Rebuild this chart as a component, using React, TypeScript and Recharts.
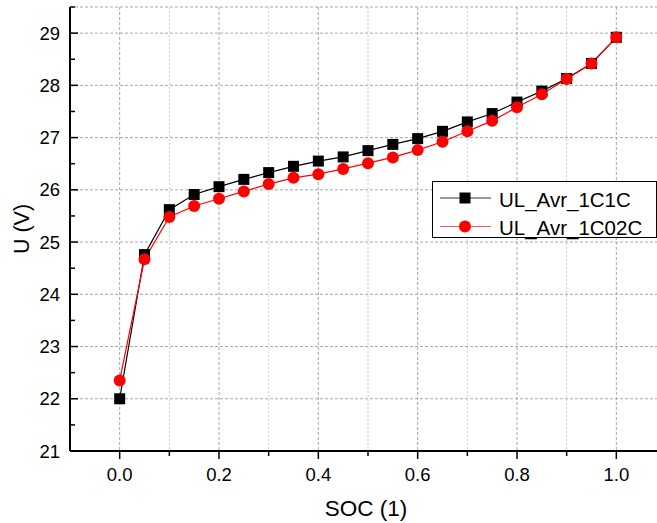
import { LineChart, Line, XAxis, YAxis, CartesianGrid, Label } from 'recharts';

const SOC = [0, 0.05, 0.1, 0.15, 0.2, 0.25, 0.3, 0.35, 0.4, 0.45, 0.5, 0.55, 0.6, 0.65, 0.7, 0.75, 0.8, 0.85, 0.9, 0.95, 1.0];
const U_1C1C = [22.0, 24.76, 25.62, 25.91, 26.06, 26.2, 26.33, 26.45, 26.55, 26.63, 26.75, 26.87, 26.98, 27.12, 27.3, 27.46, 27.68, 27.89, 28.13, 28.42, 28.92];
const U_1C02C = [22.35, 24.67, 25.48, 25.69, 25.83, 25.97, 26.11, 26.23, 26.3, 26.4, 26.51, 26.62, 26.76, 26.92, 27.12, 27.32, 27.58, 27.83, 28.12, 28.42, 28.92];

const X_TICKS = [0, 0.1, 0.2, 0.3, 0.4, 0.5, 0.6, 0.7, 0.8, 0.9, 1.0, 1.1];
const Y_TICKS = [21, 21.5, 22, 22.5, 23, 23.5, 24, 24.5, 25, 25.5, 26, 26.5, 27, 27.5, 28, 28.5, 29, 29.5];
const Y_GRID = [22, 23, 24, 25, 26, 27, 28, 29];
const X_GRID_MAJOR = [0, 0.2, 0.4, 0.6, 0.8, 1.0];
const X_GRID_MINOR = [0.1, 0.3, 0.5, 0.7, 0.9];

const X_DOMAIN = [-0.1, 1.1];
const Y_DOMAIN = [21, 29.5];

const SERIES = [
  { key: 'a', name: 'UL_Avr_1C1C', color: '#000000', legendLine: '#333333' },
  { key: 'b', name: 'UL_Avr_1C02C', color: '#ff0000', legendLine: '#ff5a5a' },
];

const data = SOC.map((s, i) => ({ soc: s, a: U_1C1C[i], b: U_1C02C[i] }));

const FONT = '"Liberation Sans", Arial, sans-serif';

const isMajor = (v: number, step: number) => Math.abs(Math.round(v / step) * step - v) < 1e-6;

function XTick(props: any) {
  const { x, y, payload } = props;
  const major = isMajor(payload.value, 0.2);
  return (
    <g>
      <line x1={x} x2={x} y1={y} y2={y + (major ? 8 : 5)} stroke="#000" strokeWidth={1.5} />
      {major && (
        <text x={x} y={y + 23} textAnchor="middle" dominantBaseline="central" fontSize={18.5} fontFamily={FONT} fill="#000">
          {payload.value.toFixed(1)}
        </text>
      )}
    </g>
  );
}

function YTick(props: any) {
  const { x, y, payload } = props;
  const major = isMajor(payload.value, 1);
  return (
    <g>
      <line x1={x} x2={x + (major ? 8 : 5)} y1={y} y2={y} stroke="#000" strokeWidth={1.5} />
      {major && (
        <text x={x - 10} y={y} textAnchor="end" dominantBaseline="central" fontSize={18.5} fontFamily={FONT} fill="#000">
          {payload.value}
        </text>
      )}
    </g>
  );
}

function SquareDot(props: any) {
  const { cx, cy, index } = props;
  if (cx == null || cy == null) return <g key={`s-${index}`} />;
  return <rect key={`s-${index}`} x={cx - 5.5} y={cy - 5.5} width={11} height={11} fill="#000" />;
}

function LegendBox() {
  return (
    <div
      style={{
        position: 'absolute',
        left: 432,
        top: 181,
        width: 225,
        height: 57,
        border: '1px solid #000',
        background: '#fff',
        boxSizing: 'border-box',
      }}
    >
      <svg width={225} height={57} style={{ position: 'absolute', left: -1, top: -1, overflow: 'visible' }}>
        {SERIES.map((s, i) => {
          const cy = 17 + i * 28.5;
          return (
            <g key={s.key}>
              <line x1={8} x2={59} y1={cy} y2={cy} stroke={s.legendLine} strokeWidth={1} />
              {i === 0 ? (
                <rect x={33 - 5.5} y={cy - 5.5} width={11} height={11} fill={s.color} />
              ) : (
                <circle cx={33} cy={cy} r={6} fill={s.color} />
              )}
              <text x={67} y={cy + 1} dominantBaseline="central" fontSize={20.5} fontFamily={FONT} fill="#000">
                {s.name}
              </text>
            </g>
          );
        })}
      </svg>
    </div>
  );
}

export default function App() {
  return (
    <div style={{ position: 'absolute', left: 0, top: 0, width: 657, height: 523, overflow: 'hidden', background: '#fff' }}>
      <LineChart width={666} height={523} data={data} margin={{ top: 7, right: 0, left: 0, bottom: 0 }}>
        {/* grid helpers: hidden axes carry only the gridline positions */}
        <XAxis xAxisId="gMaj" type="number" dataKey="soc" domain={X_DOMAIN} ticks={X_GRID_MAJOR} hide allowDataOverflow />
        <XAxis xAxisId="gMin" type="number" dataKey="soc" domain={X_DOMAIN} ticks={X_GRID_MINOR} hide allowDataOverflow />
        <YAxis yAxisId="gY" type="number" domain={Y_DOMAIN} ticks={Y_GRID} hide allowDataOverflow />
        <CartesianGrid yAxisId="gY" vertical={false} stroke="#a8a8a8" strokeDasharray="3 2" />
        <CartesianGrid xAxisId="gMaj" horizontal={false} stroke="#a8a8a8" strokeDasharray="3 2" />
        <CartesianGrid xAxisId="gMin" horizontal={false} stroke="#cccccc" strokeDasharray="2 2" />
        <XAxis
          type="number"
          dataKey="soc"
          domain={X_DOMAIN}
          ticks={X_TICKS}
          interval={0}
          height={72}
          tickSize={0}
          tickMargin={0}
          tickLine={false}
          tick={<XTick />}
          axisLine={{ stroke: '#000', strokeWidth: 2 }}
          allowDataOverflow
        >
          <Label
            content={({ viewBox }: any) => (
              <text
                x={viewBox.x + viewBox.width / 2 - 2}
                y={viewBox.y + 57}
                textAnchor="middle"
                dominantBaseline="central"
                fontSize={22.5}
                fontFamily={FONT}
                fill="#000"
              >
                SOC (1)
              </text>
            )}
          />
        </XAxis>
        <YAxis
          type="number"
          domain={Y_DOMAIN}
          ticks={Y_TICKS}
          interval={0}
          width={70}
          tickSize={0}
          tickMargin={0}
          tickLine={false}
          tick={<YTick />}
          axisLine={{ stroke: '#000', strokeWidth: 2 }}
          allowDataOverflow
        >
          <Label
            content={({ viewBox }: any) => {
              const cx = viewBox.x + 22;
              const cy = viewBox.y + viewBox.height / 2;
              return (
                <text
                  x={cx}
                  y={cy}
                  transform={`rotate(-90 ${cx} ${cy})`}
                  textAnchor="middle"
                  dominantBaseline="central"
                  fontSize={21.5}
                  fontFamily={FONT}
                  fill="#000"
                >
                  U (V)
                </text>
              );
            }}
          />
        </YAxis>
        <Line
          dataKey="a"
          name={SERIES[0].name}
          stroke={SERIES[0].color}
          strokeWidth={1.2}
          dot={<SquareDot />}
          activeDot={false}
          isAnimationActive={false}
        />
        <Line
          dataKey="b"
          name={SERIES[1].name}
          stroke={SERIES[1].color}
          strokeWidth={1.2}
          dot={{ r: 6, fill: '#ff0000', stroke: 'none' }}
          activeDot={false}
          isAnimationActive={false}
        />
      </LineChart>
      <LegendBox />
    </div>
  );
}
